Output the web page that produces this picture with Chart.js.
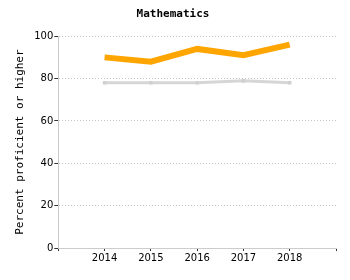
<!DOCTYPE html>
<html><head><meta charset="utf-8">
<script src="https://cdn.jsdelivr.net/npm/chart.js@4/dist/chart.umd.min.js"></script>
<style>html,body{margin:0;padding:0;background:#fff}#w{width:350px;height:280px}</style>
</head><body><div id="w"><canvas id="c" width="350" height="280"></canvas></div>
<script>
const years = [2014, 2015, 2016, 2017, 2018];
const seriesOrange = [90, 88, 94, 91, 96];
const seriesGray = [78, 78, 78, 79, 78];
const yTicks = [0, 20, 40, 60, 80, 100];
const titleText = 'Mathematics';
const yTitle = 'Percent proficient or higher';

const mono = 'DejaVu Sans Mono';
new Chart(document.getElementById('c'), {
  type: 'line',
  data: {
    datasets: [
      { data: years.map((y,i)=>({x:y,y:seriesGray[i]})), borderColor:'#d6d6d6', borderWidth:3, pointRadius:2.5, pointStyle:'rect', pointBackgroundColor:'#d0d0d0', pointBorderWidth:0, tension:0 },
      { data: years.map((y,i)=>({x:y,y:seriesOrange[i]})), borderColor:'#ffa500', borderWidth:6, pointRadius:0, tension:0 }
    ]
  },
  options: {
    responsive:false, animation:false,
    layout:{padding:{top:0,right:14,left:10,bottom:15}},
    plugins:{
      legend:{display:false}, tooltip:{enabled:false},
      title:{display:true,text:titleText,font:{family:mono,size:11,weight:'bold'},color:'#000',padding:{top:8,bottom:15}}
    },
    scales:{
      x:{type:'linear',min:2013,max:2019,
        afterBuildTicks:(s)=>{s.ticks=[2013,...years,2019].map(v=>({value:v}));},
        ticks:{callback:(v)=>years.includes(v)?String(v):'',font:{family:'DejaVu Sans',size:10},color:'#000',padding:1,maxRotation:0},
        grid:{display:true,drawOnChartArea:false,drawTicks:true,tickLength:3,color:'#333',tickColor:'#333'},
        border:{display:true,color:'#ccc'}
      },
      y:{min:0,max:100,
        afterBuildTicks:(s)=>{s.ticks=yTicks.map(v=>({value:v}));},
        ticks:{font:{family:'DejaVu Sans',size:10},color:'#000',padding:1},
        title:{display:true,text:yTitle,font:{family:mono,size:11},color:'#000',padding:{bottom:6}},
        grid:{color:'#c4c4c4',tickColor:'#333',tickLength:4,lineWidth:1,tickBorderDash:[]},
        border:{display:true,color:'#ccc',dash:[1,2]}
      }
    }
  }
});
</script></body></html>
